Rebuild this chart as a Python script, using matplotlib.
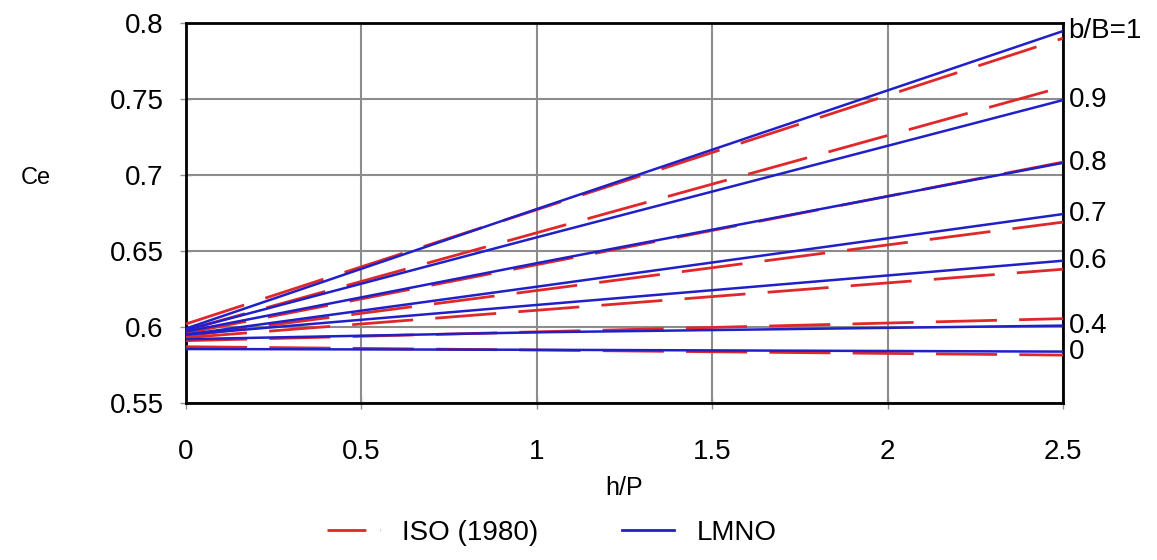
import matplotlib
matplotlib.use("Agg")
import matplotlib.pyplot as plt
from matplotlib.lines import Line2D

plt.rcParams['font.family'] = ['Liberation Sans Narrow', 'Liberation Sans', 'DejaVu Sans']

# b/B ratios labelled at the right edge
ratios = ["b/B=1", "0.9", "0.8", "0.7", "0.6", "0.4", "0"]

# ISO (1980) lines: Ce at h/P = 0 and 2.5
iso_x = [0, 2.5]
iso_y = [[0.602, 0.790],
         [0.598, 0.758],
         [0.596, 0.7085],
         [0.594, 0.669],
         [0.593, 0.638],
         [0.591, 0.6055],
         [0.587, 0.5815]]

# LMNO lines: Ce at h/P = 0, 1, 2.5
lmno_x = [0, 1, 2.5]
lmno_y = [[0.599, 0.6776, 0.7947],
          [0.598, 0.659, 0.7493],
          [0.597, 0.642, 0.708],
          [0.595, 0.6265, 0.6743],
          [0.595, 0.6145, 0.6436],
          [0.592, 0.5965, 0.6009],
          [0.5855, 0.5850, 0.5838]]

x_ticks = [0, 0.5, 1, 1.5, 2, 2.5]
x_tick_labels = ["0", "0.5", "1", "1.5", "2", "2.5"]
y_ticks = [0.55, 0.6, 0.65, 0.7, 0.75, 0.8]
y_tick_labels = ["0.55", "0.6", "0.65", "0.7", "0.75", "0.8"]

red = '#e0282a'
blue = '#2020c8'

fig = plt.figure(figsize=(11.57, 5.6), dpi=100)
ax = fig.add_axes([0.1608, 0.2804, 0.7580, 0.6785])

for ys in iso_y:
    ax.plot(iso_x, ys, color=red, lw=2, dashes=(22, 8), zorder=3)
for ys in lmno_y:
    ax.plot(lmno_x, ys, color=blue, lw=1.8, zorder=4)

ax.set_xlim(0, 2.5)
ax.set_ylim(0.55, 0.8)
ax.set_xticks(x_ticks, x_tick_labels)
ax.set_yticks(y_ticks, y_tick_labels)
ax.tick_params(direction='inout', length=8, width=1, color='#909090',
               labelsize=20)
ax.tick_params(axis='y', pad=12)
ax.tick_params(axis='x', pad=22)
ax.grid(True, color='#8c8c8c', lw=1.5)
ax.set_axisbelow(True)
for s in ax.spines.values():
    s.set_linewidth(2)
    s.set_color('black')

# right-hand b/B labels at each LMNO end point
for lab, ys in zip(ratios, lmno_y):
    ax.annotate(lab, xy=(1, ys[-1]), xycoords=('axes fraction', 'data'),
                xytext=(4, 0), textcoords='offset points',
                ha='left', va='center', fontsize=20)

ax.set_xlabel('h/P', fontsize=18, labelpad=8)
fig.text(0.018, 0.682, 'Ce', fontsize=17, va='center')

handles = [Line2D([], [], color=red, lw=2, dashes=(14, 5)),
           Line2D([], [], color=blue, lw=2)]
fig.legend(handles, ['ISO (1980)', 'LMNO'], loc='center',
           bbox_to_anchor=(0.477, 0.048), ncol=2, frameon=False,
           fontsize=20, handlelength=1.9, columnspacing=3.0,
           handletextpad=0.8)

fig.savefig('out.png', dpi=100)
